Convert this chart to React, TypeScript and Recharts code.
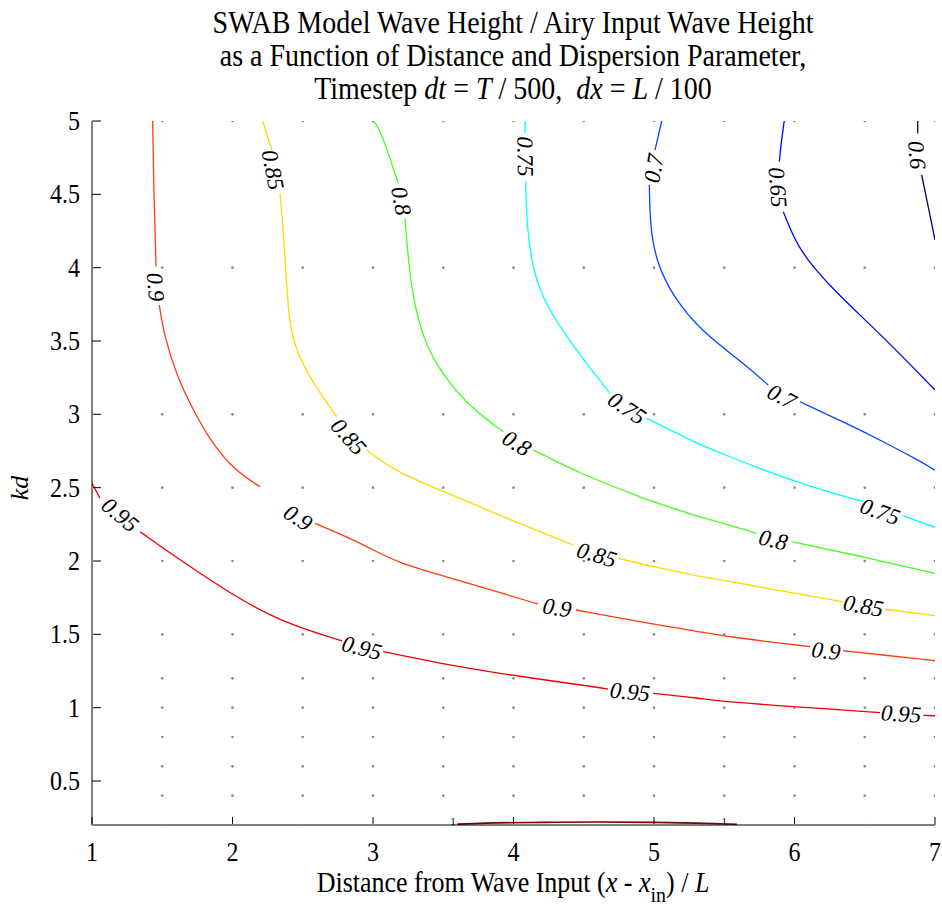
import React from 'react';
import { ComposedChart, XAxis, YAxis, Line, Scatter } from 'recharts';

// ---------- axes / sampling grid ----------
const xTicks = [1, 2, 3, 4, 5, 6, 7];
const yTicks = [0.5, 1, 1.5, 2, 2.5, 3, 3.5, 4, 4.5, 5];
const gridX = [1, 1.5, 2, 2.5, 3, 3.5, 4, 4.5, 5, 5.5, 6, 6.5, 7];
const gridKd = [0.2, 0.4, 0.6, 0.8, 1, 1.2, 1.5, 2, 2.5, 3, 4, 5];

type P = { x: number; y: number | null };
const p = (x: number, y: number): P => ({ x, y });
const gap = (x: number): P => ({ x, y: null });

// ---------- contour lines (null = label gap) ----------
const c60: P[] = [p(6.877, 5.0), p(6.877, 4.914), gap(6.87), p(6.905, 4.632), p(6.952, 4.416), p(7.0, 4.189)];
const c65: P[] = [
  p(5.927, 5.0), p(5.905, 4.85), p(5.892, 4.723), gap(5.88), p(5.92, 4.382), p(5.991, 4.211), p(6.087, 4.052),
  p(6.3, 3.825), p(6.632, 3.529), p(7.0, 3.166),
];
const c70: P[] = [
  p(5.055, 5.0), p(5.007, 4.802), gap(5.0), p(4.967, 4.564), p(4.972, 4.279), p(5.019, 4.03), p(5.137, 3.802),
  p(5.327, 3.575), p(5.636, 3.348), p(5.813, 3.2), gap(5.909), p(6.039, 3.086),
  p(6.395, 2.927), p(6.609, 2.825), p(6.87, 2.693), p(7.0, 2.62),
];
const c75: P[] = [
  p(4.082, 5.0), p(4.082, 4.92), gap(4.082), p(4.087, 4.586), p(4.094, 4.279), p(4.141, 3.962), p(4.236, 3.734),
  p(4.426, 3.461), p(4.687, 3.143), gap(4.806), p(4.948, 2.973), p(5.256, 2.825), p(5.446, 2.745),
  p(5.991, 2.541), p(6.49, 2.404), gap(6.609), p(6.774, 2.307), p(7.0, 2.23),
];
const c80: P[] = [
  p(3.002, 5.0), p(3.05, 4.95), p(3.18, 4.575), gap(3.199), p(3.228, 4.337), p(3.251, 4.052), p(3.287, 3.78),
  p(3.358, 3.507), p(3.5, 3.257), p(3.714, 3.03), p(3.927, 2.882), gap(4.023), p(4.141, 2.757),
  p(4.283, 2.69), p(4.473, 2.598), p(4.948, 2.416), p(5.28, 2.314), p(5.731, 2.189), gap(5.849),
  p(5.98, 2.132), p(6.49, 2.029), p(7.0, 1.916),
];
const c85: P[] = [
  p(2.215, 5.0), p(2.279, 4.802), gap(2.286), p(2.338, 4.507), p(2.367, 4.189), p(2.386, 3.87), p(2.409, 3.575),
  p(2.48, 3.37), p(2.623, 3.143), p(2.742, 2.984), gap(2.824), p(2.955, 2.757), p(3.05, 2.689),
  p(3.192, 2.598), p(3.477, 2.484), p(3.999, 2.272), p(4.426, 2.109), gap(4.592), p(4.746, 2.018),
  p(4.995, 1.961), p(5.327, 1.893), p(5.493, 1.87), p(5.991, 1.78), p(6.347, 1.722), gap(6.49),
  p(6.644, 1.671), p(7.0, 1.627),
];
const c90: P[] = [
  p(1.432, 5.0), p(1.441, 4.461), p(1.456, 4.007), gap(1.452), p(1.479, 3.745), p(1.509, 3.553), p(1.605, 3.253),
  p(1.733, 3.007), p(1.84, 2.825), p(2.01, 2.62), p(2.196, 2.507), gap(2.466), p(2.587, 2.257),
  p(2.813, 2.166), p(3.002, 2.075), p(3.192, 1.984), p(3.477, 1.905), p(3.999, 1.757), p(4.174, 1.707),
  gap(4.31), p(4.445, 1.666), p(4.995, 1.568), p(5.327, 1.518), p(5.517, 1.484), p(6.11, 1.416),
  gap(6.224), p(6.347, 1.388), p(6.893, 1.332), p(7.0, 1.32),
];
const c95: P[] = [
  p(1.0, 2.53), p(1.057, 2.428), gap(1.199), p(1.342, 2.2), p(1.626, 2.007), p(1.982, 1.78), p(2.338, 1.586),
  p(2.779, 1.455), gap(2.92), p(3.073, 1.382), p(3.192, 1.359), p(3.477, 1.302), p(3.999, 1.218),
  p(4.568, 1.143), p(4.673, 1.127), gap(4.829), p(4.995, 1.098), p(5.327, 1.064), p(5.493, 1.041),
  p(5.991, 1.007), p(6.609, 0.966), gap(6.758), p(6.917, 0.948), p(7.0, 0.945),
];
const c100: P[] = [
  p(3.6, 0.206), p(3.8, 0.213), p(4.2, 0.218), p(4.6, 0.22), p(5.0, 0.218), p(5.3, 0.213), p(5.59, 0.205),
];

// ---------- contour label positions ----------
const l60 = [{ x: 6.87, y: 4.768 }];
const l65 = [{ x: 5.88, y: 4.548 }];
const l70 = [{ x: 5.0, y: 4.677 }, { x: 5.909, y: 3.12 }];
const l75 = [{ x: 4.082, y: 4.757 }, { x: 4.806, y: 3.041 }, { x: 6.609, y: 2.336 }];
const l80 = [{ x: 3.199, y: 4.455 }, { x: 4.023, y: 2.802 }, { x: 5.849, y: 2.143 }];
const l85 = [{ x: 2.286, y: 4.666 }, { x: 2.824, y: 2.847 }, { x: 4.592, y: 2.041 }, { x: 6.49, y: 1.693 }];
const l90 = [{ x: 1.452, y: 3.868 }, { x: 2.466, y: 2.293 }, { x: 4.31, y: 1.68 }, { x: 6.224, y: 1.386 }];
const l95 = [{ x: 1.199, y: 2.314 }, { x: 2.92, y: 1.407 }, { x: 4.829, y: 1.107 }, { x: 6.758, y: 0.957 }];
const l100 = [{ x: 3.57, y: 0.2 }, { x: 5.5, y: 0.2 }];

const contours = [
  { level: '0.6', color: '#00006e', pts: c60, labels: l60 },
  { level: '0.65', color: '#0000ff', pts: c65, labels: l65 },
  { level: '0.7', color: '#0048ff', pts: c70, labels: l70 },
  { level: '0.75', color: '#00ffff', pts: c75, labels: l75 },
  { level: '0.8', color: '#44ff22', pts: c80, labels: l80 },
  { level: '0.85', color: '#ffd800', pts: c85, labels: l85 },
  { level: '0.9', color: '#ff3a10', pts: c90, labels: l90 },
  { level: '0.95', color: '#f00000', pts: c95, labels: l95 },
];

// ---------- layout ----------
const W = 942;
const H = 909;
const PL = 92, PR = 935, PT = 121, PB = 825;
const SX = (PR - PL) / 6;
const SY = (PB - PT) / 4.8;
const FONT = 'Liberation Serif, Times New Roman, serif';
const STRETCH = 1.1;

const gridPts = gridX.flatMap((x) => gridKd.map((y) => ({ x, y })));

function labelAngle(pts: P[], x: number, y: number): number {
  let best = 0;
  let bd = Infinity;
  pts.forEach((q, i) => {
    if (q.y == null) return;
    const d = ((q.x - x) * SX) ** 2 + ((q.y - y) * SY) ** 2;
    if (d < bd) { bd = d; best = i; }
  });
  let a: P, b: P;
  if (pts[best + 1] && pts[best + 1].y == null && pts[best + 2]) { a = pts[best]; b = pts[best + 2]; }
  else if (best >= 2 && pts[best - 1].y == null) { a = pts[best - 2]; b = pts[best]; }
  else { a = pts[Math.max(best - 1, 0)]; b = pts[Math.min(best + 1, pts.length - 1)]; }
  let ang = (Math.atan2(-((b.y as number) - (a.y as number)) * SY, (b.x - a.x) * SX) * 180) / Math.PI;
  if (ang > 90) ang -= 180;
  if (ang < -90) ang += 180;
  return ang;
}

const txt = { fontFamily: FONT, fill: '#000' } as const;

const makeLabel = (pts: P[], text: string) => (props: any) => {
  const { cx, cy, payload } = props;
  const ang = labelAngle(pts, payload.x, payload.y);
  return (
    <text
      x={cx}
      y={cy}
      transform={`rotate(${ang} ${cx} ${cy})`}
      textAnchor="middle"
      dominantBaseline="central"
      fontSize={23}
      fontStyle="italic"
      style={txt}
    >
      {text}
    </text>
  );
};

const oneLabel = (props: any) => {
  const { cx, cy } = props;
  return (
    <text x={cx} y={cy} textAnchor="middle" fontSize={11} style={txt}>
      1
    </text>
  );
};

const gridDot = (props: any) => <circle cx={props.cx} cy={props.cy} r={1.3} fill="#8a8a8a" />;

const YTick = (props: any) => {
  const { x, y, payload } = props;
  return (
    <g transform={`translate(${x},${y}) scale(1,${STRETCH})`}>
      <text x={0} y={0} textAnchor="end" dominantBaseline="central" fontSize={24} style={txt}>
        {payload.value}
      </text>
    </g>
  );
};

const XTick = (props: any) => {
  const { x, payload } = props;
  return (
    <g transform={`translate(${x},${861}) scale(1,${STRETCH})`}>
      <text x={0} y={0} textAnchor="middle" fontSize={24} style={txt}>
        {payload.value}
      </text>
    </g>
  );
};

export default function App() {
  return (
    <div style={{ position: 'relative', width: W, height: H, background: '#fff', fontFamily: FONT }}>
      <style>{`body{margin:0;overflow:hidden;background:#fff}`}</style>
      <ComposedChart width={W} height={H} margin={{ top: PT, right: W - PR, bottom: H - PB - 30, left: PL - 60 }}>
        <XAxis
          type="number"
          dataKey="x"
          domain={[1, 7]}
          ticks={xTicks}
          allowDataOverflow
          height={30}
          axisLine={{ stroke: '#000', strokeWidth: 1 }}
          tickLine={{ stroke: '#000', strokeWidth: 1 }}
          tickSize={-8}
          tick={<XTick />}
        />
        <YAxis
          type="number"
          dataKey="y"
          domain={[0.2, 5]}
          ticks={yTicks}
          allowDataOverflow
          width={60}
          axisLine={{ stroke: '#000', strokeWidth: 1 }}
          tickLine={{ stroke: '#000', strokeWidth: 1 }}
          tickSize={-9}
          tickMargin={21}
          tick={<YTick />}
        />
        <Scatter data={gridPts} dataKey="y" shape={gridDot} isAnimationActive={false} />
        {contours.map((c) => (
          <Line
            key={'line' + c.level}
            data={c.pts}
            dataKey="y"
            type="basis"
            stroke={c.color}
            strokeWidth={1.3}
            dot={false}
            activeDot={false}
            connectNulls={false}
            isAnimationActive={false}
          />
        ))}
        <Line
          data={c100}
          dataKey="y"
          type="monotoneX"
          stroke="#7a0000"
          strokeWidth={1.6}
          dot={false}
          activeDot={false}
          isAnimationActive={false}
        />
        {contours.map((c) => (
          <Scatter
            key={'lab' + c.level}
            data={c.labels}
            dataKey="y"
            shape={makeLabel(c.pts, c.level)}
            isAnimationActive={false}
          />
        ))}
        <Scatter data={l100} dataKey="y" shape={oneLabel} isAnimationActive={false} />
      </ComposedChart>
      <svg
        width={W}
        height={H}
        style={{ position: 'absolute', left: 0, top: 0, pointerEvents: 'none', fontFamily: FONT }}
      >
        <g transform={`translate(513,33) scale(1,${STRETCH})`}>
          <text textAnchor="middle" fontSize={28} style={txt}>
            SWAB Model Wave Height / Airy Input Wave Height
          </text>
        </g>
        <g transform={`translate(513,66) scale(1,${STRETCH})`}>
          <text textAnchor="middle" fontSize={28} style={txt}>
            as a Function of Distance and Dispersion Parameter,
          </text>
        </g>
        <g transform={`translate(513,99) scale(1,${STRETCH})`}>
          <text textAnchor="middle" fontSize={28} style={{ ...txt, whiteSpace: 'pre' }}>
            {'Timestep '}
            <tspan fontStyle="italic">dt</tspan>
            {' = '}
            <tspan fontStyle="italic">T</tspan>
            {' / 500,  '}
            <tspan fontStyle="italic">dx</tspan>
            {' = '}
            <tspan fontStyle="italic">L</tspan>
            {' / 100'}
          </text>
        </g>
        <g transform={`translate(513,892) scale(1,${STRETCH})`}>
          <text textAnchor="middle" fontSize={26} style={{ ...txt, whiteSpace: 'pre' }}>
            {'Distance from Wave Input ('}
            <tspan fontStyle="italic">x</tspan>
            {' - '}
            <tspan fontStyle="italic">x</tspan>
            <tspan dy={9} fontSize={20}>in</tspan>
            <tspan dy={-9}>{') / '}</tspan>
            <tspan fontStyle="italic">L</tspan>
          </text>
        </g>
        <g transform={`translate(28,488) rotate(-90)`}>
          <text textAnchor="middle" fontSize={26} fontStyle="italic" style={txt}>
            kd
          </text>
        </g>
      </svg>
    </div>
  );
}
